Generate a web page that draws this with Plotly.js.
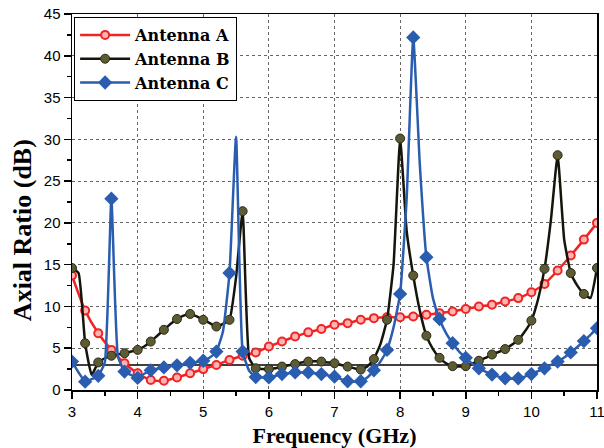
<!DOCTYPE html>
<html>
<head>
<meta charset="utf-8">
<script src="https://cdn.plot.ly/plotly-3.0.1.min.js"></script>
<style>
html,body{margin:0;padding:0;background:#fff}
#chart{width:604px;height:448px}
</style>
</head>
<body>
<div id="chart"></div>
<script>
// Antenna A: sampled every 0.2 GHz
const freqA = [3.0,3.2,3.4,3.6,3.8,4.0,4.2,4.4,4.6,4.8,5.0,5.2,5.4,5.6,5.8,6.0,6.2,6.4,6.6,6.8,7.0,
  7.2,7.4,7.6,7.8,8.0,8.2,8.4,8.6,8.8,9.0,9.2,9.4,9.6,9.8,10.0,10.2,10.4,10.6,10.8,11.0];
const arA = [13.7,9.5,6.8,4.8,3.2,2.0,1.2,1.1,1.5,2.0,2.5,3.0,3.6,4.1,4.5,5.2,5.8,6.4,6.9,7.3,7.8,
  8.0,8.4,8.6,8.7,8.7,8.8,9.0,9.2,9.4,9.7,10.0,10.2,10.6,11.0,11.7,12.7,14.3,16.1,18.0,20.0];

// Antennas B and C: sampled every 0.1 GHz (markers shown every 0.2 GHz)
const freqBC = [3.0,3.1,3.2,3.3,3.4,3.5,3.6,3.7,3.8,3.9,4.0,4.1,4.2,4.3,4.4,4.5,4.6,4.7,4.8,4.9,
  5.0,5.1,5.2,5.3,5.4,5.5,5.6,5.7,5.8,5.9,6.0,6.1,6.2,6.3,6.4,6.5,6.6,6.7,6.8,6.9,
  7.0,7.1,7.2,7.3,7.4,7.5,7.6,7.7,7.8,7.9,8.0,8.1,8.2,8.3,8.4,8.5,8.6,8.7,8.8,8.9,
  9.0,9.1,9.2,9.3,9.4,9.5,9.6,9.7,9.8,9.9,10.0,10.1,10.2,10.3,10.4,10.5,10.6,10.7,10.8,10.9,11.0];
const arB = [14.6,14.0,5.6,1.8,3.3,3.8,4.1,4.25,4.4,4.6,
  4.8,5.2,5.8,6.5,7.2,7.9,8.5,8.9,9.1,8.8,
  8.4,8.0,7.6,7.9,8.4,13.5,21.4,3.8,2.6,2.5,
  2.5,2.6,2.8,2.95,3.1,3.3,3.4,3.45,3.4,3.3,
  3.2,3.0,2.8,2.6,2.45,2.8,3.7,5.5,8.4,15.0,
  30.1,19.0,13.7,9.5,6.5,4.9,3.85,3.2,2.85,2.8,
  2.85,3.15,3.5,3.85,4.25,4.55,4.9,5.4,6.0,7.0,
  8.3,10.8,14.5,20.5,28.1,18.0,14.0,12.5,11.5,11.0,14.6];
const arC = [3.4,2.1,1.0,1.3,1.7,3.3,22.9,4.0,2.2,1.8,
  1.45,1.95,2.35,2.55,2.7,2.85,2.95,3.1,3.25,3.35,
  3.5,3.9,4.6,7.0,14.0,30.3,4.6,2.3,1.55,1.5,
  1.5,1.7,1.9,2.0,2.1,2.1,2.1,2.0,1.9,1.75,
  1.6,1.3,1.05,1.0,1.05,1.5,2.35,3.4,4.8,7.5,
  11.5,23.0,42.2,27.0,15.9,11.0,8.5,6.8,5.6,4.6,
  3.85,3.15,2.6,2.2,1.85,1.6,1.4,1.35,1.4,1.6,
  1.9,2.25,2.6,3.0,3.4,3.9,4.5,5.15,5.85,6.6,7.4];

// 3 dB axial-ratio reference level
const limitX = [3, 11];
const limitY = [3, 3];

const seriesNames = ['Antenna A', 'Antenna B', 'Antenna C'];
const xTitle = 'Frequency (GHz)';
const yTitle = 'Axial Ratio (dB)';

function markedPoints(xs, ys) {
  const mx = [], my = [];
  for (let i = 0; i < xs.length; i += 2) { mx.push(xs[i]); my.push(ys[i]); }
  return {x: mx, y: my};
}

const colA = '#ef2424', colB = '#15150c', colC = '#2a5db0';
const mkA = {symbol: 'circle', size: 8, color: '#ffb4b4', line: {color: colA, width: 2}};
const mkB = {symbol: 'circle', size: 9, color: '#5c5b34', line: {color: '#2a2a16', width: 1}};
const mkC = {symbol: 'diamond', size: 11, color: colC, line: {color: colC, width: 0}};

const mB = markedPoints(freqBC, arB);
const mC = markedPoints(freqBC, arC);

const traces = [
  {x: limitX, y: limitY, mode: 'lines', line: {color: '#000', width: 1.5}, showlegend: false, hoverinfo: 'skip'},
  {x: freqA, y: arA, mode: 'lines+markers', name: seriesNames[0],
   line: {color: colA, width: 2.5, shape: 'spline', smoothing: 0.6}, marker: mkA},
  {x: freqBC, y: arB, mode: 'lines', showlegend: false,
   line: {color: colB, width: 2.5, shape: 'spline', smoothing: 0.4}},
  {x: mB.x, y: mB.y, mode: 'markers', showlegend: false, marker: mkB},
  {x: freqBC, y: arC, mode: 'lines', showlegend: false,
   line: {color: colC, width: 2.5, shape: 'spline', smoothing: 0.4}},
  {x: mC.x, y: mC.y, mode: 'markers', showlegend: false, marker: mkC},
  {x: [null], y: [null], mode: 'lines+markers', name: seriesNames[1], line: {color: colB, width: 2.5}, marker: mkB},
  {x: [null], y: [null], mode: 'lines+markers', name: seriesNames[2], line: {color: colC, width: 2.5}, marker: mkC}
];

const tickFont = {family: 'Liberation Sans, Arial, sans-serif', size: 15, color: '#000'};
const serif = 'Liberation Serif, Times New Roman, serif';

const layout = {
  width: 604, height: 448,
  margin: {l: 72, r: 7, t: 14, b: 58},
  paper_bgcolor: '#fff', plot_bgcolor: '#fff',
  showlegend: true,
  xaxis: {
    range: [3, 11], tick0: 3, dtick: 1, ticks: 'outside', ticklen: 7, tickwidth: 1.5, tickcolor: '#000',
    showline: true, linecolor: '#000', linewidth: 1.5, mirror: true, zeroline: false,
    showgrid: true, gridcolor: '#666', griddash: 'dot', gridwidth: 1,
    minor: {dtick: 0.5, ticks: 'outside', ticklen: 4, tickwidth: 1.5, tickcolor: '#000', showgrid: false},
    tickfont: tickFont, ticklabeloverflow: 'allow',
    title: {text: xTitle, standoff: 14, font: {family: serif, size: 22, weight: 'bold', color: '#000'}}
  },
  yaxis: {
    range: [0, 45], tick0: 0, dtick: 5, ticks: 'outside', ticklen: 7, tickwidth: 1.5, tickcolor: '#000',
    showline: true, linecolor: '#000', linewidth: 1.5, mirror: true, zeroline: false,
    showgrid: true, gridcolor: '#666', griddash: 'dot', gridwidth: 1,
    minor: {dtick: 2.5, ticks: 'outside', ticklen: 4, tickwidth: 1.5, tickcolor: '#000', showgrid: false},
    tickfont: tickFont
  },
  yaxis2: {
    overlaying: 'y', side: 'right', anchor: 'x', range: [0, 45], tick0: 0, dtick: 5,
    ticks: 'inside', ticklen: 6, tickwidth: 1.5, tickcolor: '#000', showticklabels: false,
    showgrid: false, zeroline: false, showline: false,
    minor: {dtick: 2.5, ticks: 'inside', ticklen: 6, tickwidth: 1.5, tickcolor: '#000', showgrid: false}
  },
  annotations: [{
    text: yTitle, textangle: -90, showarrow: false,
    xref: 'paper', yref: 'paper', x: -0.095, y: 0.4255, xanchor: 'center', yanchor: 'middle',
    font: {family: serif, size: 26, weight: 'bold', color: '#000'}
  }],
  legend: {
    x: 0.004, y: 0.992, xanchor: 'left', yanchor: 'top',
    bgcolor: '#fff', bordercolor: '#000', borderwidth: 1,
    font: {family: 'DejaVu Serif, serif', size: 16, weight: 'bold', color: '#000'},
    tracegroupgap: 0, itemwidth: 50
  }
};

Plotly.newPlot('chart', traces, layout, {displayModeBar: false, staticPlot: true});
</script>
</body>
</html>
